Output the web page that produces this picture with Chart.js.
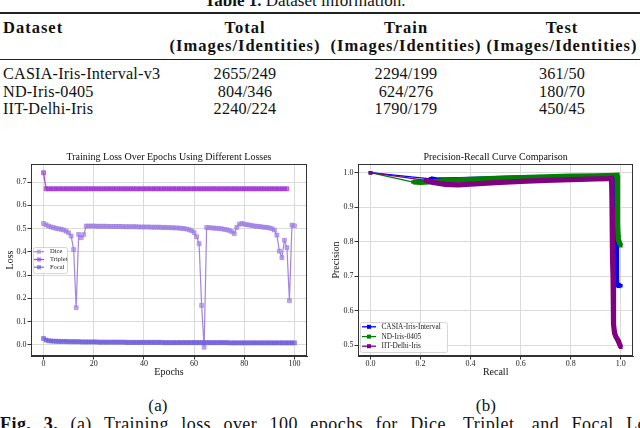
<!DOCTYPE html>
<html><head><meta charset="utf-8">
<script src="https://cdn.jsdelivr.net/npm/chart.js@4.4.1/dist/chart.umd.min.js"></script>
<style>
html,body{margin:0;padding:0;background:#fff;}
body{width:640px;height:428px;overflow:hidden;position:relative;font-family:'Liberation Serif',serif;color:#111;}
.t{position:absolute;white-space:nowrap;line-height:1;}
.hb{font-weight:bold;font-size:16.5px;letter-spacing:1px;}
.rg{font-size:16.2px;letter-spacing:0.2px;}
.rule{position:absolute;left:0;width:640px;background:#222;}
canvas{position:absolute;}
</style></head><body>
<div class="t" style="left:0;width:610px;text-align:center;top:-8px;font-size:17px;"><b>Table 1.</b> Dataset information.</div>
<div class="rule" style="top:12px;height:2px"></div>
<div class="rule" style="top:59px;height:1px"></div>
<div id="tbl"></div>
<canvas id="lossChart" width="320" height="240" style="left:0;top:145px"></canvas>
<canvas id="prChart" width="320" height="240" style="left:320px;top:145px"></canvas>
<div class="t rg" style="left:158px;top:397px;transform:translateX(-50%);font-size:17px">(a)</div>
<div class="t rg" style="left:486px;top:397px;transform:translateX(-50%);font-size:17px">(b)</div>
<div class="t" style="left:0;top:415px;width:662px;white-space:normal;text-align:justify;text-align-last:justify;font-size:18px;letter-spacing:0.45px;"><b>Fig. 3.</b> (a) Training loss over 100 epochs for Dice, Triplet, and Focal Loss</div>
<script>
// ---------- table data ----------
const tableHeaders = ['Dataset', 'Total', 'Train', 'Test'];
const tableSubHeader = '(Images/Identities)';
const datasetNames = ['CASIA-Iris-Interval-v3', 'ND-Iris-0405', 'IIT-Delhi-Iris'];
const totalCounts = ['2655/249', '804/346', '2240/224'];
const trainCounts = ['2294/199', '624/276', '1790/179'];
const testCounts = ['361/50', '180/70', '450/45'];

// ---------- chart (a) data ----------
const lossSeriesNames = ['Dice', 'Triplet', 'Focal'];
const diceLoss = [0.522,0.516,0.511,0.507,0.504,0.501,0.499,0.497,0.494,0.489,0.482,0.468,0.410,0.160,0.475,0.461,0.474,0.511,
  0.511,0.511,0.511,0.510,0.510,0.510,0.510,0.510,0.509,0.509,0.509,0.509,0.509,
  0.509,0.508,0.508,0.508,0.508,0.508,0.508,0.507,0.507,0.507,0.507,0.507,0.506,0.506,0.506,
  0.506,0.505,0.505,0.505,0.504,0.504,0.503,0.503,0.502,0.501,
  0.500,0.498,0.495,0.491,0.483,0.465,0.435,0.170,-0.010,
  0.505,0.504,0.503,0.502,0.501,0.500,0.499,0.497,0.495,0.492,0.487,0.478,
  0.505,0.519,0.522,
  0.519,0.517,0.515,0.513,0.511,0.510,0.509,0.507,0.506,0.505,0.503,0.500,0.494,0.472,
  0.403,0.375,0.450,0.418,0.190,0.515,0.512];
const tripletLoss = [0.740,0.671,0.671,0.671,0.671,0.671,0.671,0.671,0.671,0.671,
  0.671,0.671,0.671,0.671,0.671,0.671,0.671,0.671,0.671,0.671,
  0.671,0.671,0.671,0.671,0.671,0.671,0.671,0.671,0.671,0.671,
  0.671,0.671,0.671,0.671,0.671,0.671,0.671,0.671,0.671,0.671,
  0.671,0.671,0.671,0.671,0.671,0.671,0.671,0.671,0.671,0.671,
  0.671,0.671,0.671,0.671,0.671,0.671,0.671,0.671,0.671,0.671,
  0.671,0.671,0.671,0.671,0.671,0.671,0.671,0.671,0.671,0.671,
  0.671,0.671,0.671,0.671,0.671,0.671,0.671,0.671,0.671,0.671,
  0.671,0.671,0.671,0.671,0.671,0.671,0.671,0.671,0.671,0.671,
  0.671,0.671,0.671,0.671,0.671,0.671,0.671,0.671];
const focalLoss = [0.028,0.021,0.018,0.017,0.016,0.016,0.015,0.015,0.015,0.015,
  0.014,0.014,0.014,0.014,0.014,0.013,0.013,0.013,0.013,0.013,
  0.013,0.013,0.012,0.012,0.012,0.012,0.012,0.012,0.012,0.012,
  0.012,0.012,0.012,0.011,0.011,0.011,0.011,0.011,0.011,0.011,
  0.011,0.011,0.011,0.011,0.011,0.011,0.011,0.011,0.010,0.010,
  0.010,0.010,0.010,0.010,0.010,0.010,0.010,0.010,0.010,0.010,
  0.010,0.010,0.010,0.010,0.010,0.010,0.010,0.010,0.010,0.010,
  0.010,0.010,0.010,0.010,0.009,0.009,0.009,0.009,0.009,0.009,
  0.009,0.009,0.009,0.009,0.009,0.009,0.009,0.009,0.009,0.009,
  0.009,0.009,0.009,0.009,0.009,0.009,0.009,0.009,0.009,0.009,0.009];
const epochTicks = [0, 20, 40, 60, 80, 100];
const lossTicks = [0.0, 0.1, 0.2, 0.3, 0.4, 0.5, 0.6, 0.7];

// ---------- chart (b) data ----------
const prSeriesNames = ['CASIA-Iris-Interval', 'ND-Iris-0405', 'IIT-Delhi-Iris'];
const casiaRecall = [0.000,0.240,0.270,0.300,0.350,0.400,0.500,0.600,0.700,0.800,0.900,0.950,0.975,0.978,0.979,0.980,0.981,0.982,0.983,0.984,0.985,0.990,1.000];
const casiaPrecision = [1.000,0.982,0.979,0.979,0.980,0.981,0.983,0.985,0.986,0.987,0.988,0.989,0.990,0.950,0.900,0.850,0.800,0.760,0.720,0.690,0.676,0.673,0.672];
const ndRecall = [0.000,0.170,0.200,0.250,0.300,0.350,0.400,0.500,0.600,0.700,0.800,0.900,0.950,0.985,0.986,0.987,0.988,0.989,0.990,0.995,1.000];
const ndPrecision = [1.000,0.973,0.972,0.974,0.977,0.979,0.981,0.984,0.986,0.988,0.990,0.991,0.992,0.993,0.950,0.900,0.850,0.820,0.806,0.797,0.788];
const iitRecall = [0.000,0.220,0.250,0.280,0.300,0.350,0.400,0.500,0.600,0.700,0.800,0.900,0.950,0.963,0.964,0.965,0.966,0.967,0.968,0.969,0.970,0.971,0.972,0.975,0.980,0.990,1.000];
const iitPrecision = [1.000,0.978,0.972,0.968,0.966,0.965,0.967,0.971,0.975,0.978,0.980,0.982,0.983,0.984,0.950,0.900,0.850,0.800,0.750,0.700,0.650,0.600,0.560,0.535,0.525,0.512,0.494];
const recallTicks = [0.0, 0.2, 0.4, 0.6, 0.8, 1.0];
const precisionTicks = [0.5, 0.6, 0.7, 0.8, 0.9, 1.0];

// ---------- build table ----------
(function(){
  const tbl = document.getElementById('tbl');
  const colCenters = [245, 406, 562];
  const rowCenters = [74, 92, 109];
  function add(txt, cls, left, top, center){
    const d = document.createElement('div');
    d.className = 't ' + cls; d.textContent = txt;
    d.style.left = left + 'px'; d.style.top = top + 'px';
    if (center) d.style.transform = 'translateX(-50%)';
    tbl.appendChild(d);
  }
  add(tableHeaders[0], 'hb', 3, 20, false);
  for (let c = 0; c < 3; c++) {
    add(tableHeaders[c+1], 'hb', colCenters[c], 20, true);
    add(tableSubHeader, 'hb', colCenters[c], 38, true);
  }
  const cols = [totalCounts, trainCounts, testCounts];
  for (let r = 0; r < datasetNames.length; r++) {
    add(datasetNames[r], 'rg', 3, rowCenters[r]-8, false);
    for (let c = 0; c < 3; c++) add(cols[c][r], 'rg', colCenters[c], rowCenters[r]-8, true);
  }
})();

// ---------- charts ----------
Chart.defaults.font.family = "'Liberation Serif', serif";
Chart.defaults.color = '#222';

const framePlugin = {
  id: 'frame',
  afterDatasetsDraw(chart){
    const {ctx, chartArea: a} = chart;
    ctx.save();
    ctx.strokeStyle = '#333'; ctx.lineWidth = 1;
    ctx.strokeRect(Math.round(a.left)+0.5, Math.round(a.top)+0.5, Math.round(a.right)-Math.round(a.left)-1, Math.round(a.bottom)-Math.round(a.top)-1);
    ctx.restore();
  }
};
const innerLegend = {
  id: 'innerLegend',
  afterDraw(chart, args, o){
    const ctx = chart.ctx;
    ctx.save();
    ctx.fillStyle = 'rgba(255,255,255,0.85)';
    ctx.strokeStyle = '#cccccc'; ctx.lineWidth = 0.8;
    ctx.beginPath();
    ctx.roundRect(o.box[0]+0.5, o.box[1]+0.5, o.box[2]-o.box[0], o.box[3]-o.box[1], 2);
    ctx.fill(); ctx.stroke();
    ctx.font = o.fontSize + "px 'Liberation Serif', serif";
    ctx.textBaseline = 'middle'; ctx.textAlign = 'left';
    chart.data.datasets.forEach((ds, i) => {
      const y = o.rows[i];
      ctx.strokeStyle = ds.borderColor; ctx.lineWidth = o.lineWidth;
      ctx.beginPath(); ctx.moveTo(o.lx[0], y); ctx.lineTo(o.lx[1], y); ctx.stroke();
      const cx = (o.lx[0]+o.lx[1])/2, r = o.markerR;
      ctx.fillStyle = ds.pointBackgroundColor;
      ctx.fillRect(cx-r, y-r, 2*r, 2*r);
      ctx.fillStyle = '#222';
      ctx.fillText(ds.label, o.tx, y);
    });
    ctx.restore();
  }
};

function axis(min, max, ticks, fmt, title, fit, titlePad){
  return {
    type: 'linear', min: min, max: max,
    afterBuildTicks: s => { s.ticks = ticks.map(v => ({value: v})); },
    afterFit: fit,
    ticks: { autoSkip: false, maxRotation: 0, padding: titlePad.tp, font: {size: 8}, color: '#222', callback: v => fmt(v) },
    grid: { color: '#dadada', lineWidth: 1, tickColor: '#333', tickLength: 3.5, drawTicks: true },
    border: { display: true, color: '#333', width: 1 },
    title: { display: true, text: title, font: {size: 10}, color: '#111', padding: titlePad.p }
  };
}

const lossColors = [
  {line: 'rgba(147,112,219,0.85)', fill: 'rgba(165,135,232,0.7)'},
  {line: 'rgba(148,20,211,0.8)', fill: 'rgba(165,70,222,0.7)'},
  {line: 'rgba(106,90,215,0.9)', fill: 'rgba(118,103,222,0.75)'}
];
const lossData = [diceLoss, tripletLoss, focalLoss];
new Chart(document.getElementById('lossChart'), {
  type: 'line',
  data: {
    datasets: lossData.map((arr, k) => ({
      label: lossSeriesNames[k],
      data: arr.map((v, i) => ({x: i, y: v})),
      borderColor: lossColors[k].line, borderWidth: 1.2,
      pointStyle: 'rect', pointRadius: 2.8, pointBorderWidth: 0.6,
      pointBackgroundColor: lossColors[k].fill, pointBorderColor: lossColors[k].line,
      order: 3 - k, tension: 0
    }))
  },
  options: {
    responsive: false, animation: false, devicePixelRatio: 1,
    layout: { padding: {left: 0, right: 13, top: 0, bottom: 0} },
    plugins: {
      legend: {display: false}, tooltip: {enabled: false},
      title: { display: true, fullSize: false, text: 'Training Loss Over Epochs Using Different Losses', font: {size: 10, weight: 'normal'}, color: '#111', padding: {top: 6, bottom: 1} },
      innerLegend: { box: [33, 102, 67, 128], rows: [106.7, 114.5, 122.2], lx: [34, 44], tx: 50, fontSize: 6.5, lineWidth: 1.2, markerR: 2 }
    },
    scales: {
      x: axis(-5, 105, epochTicks, v => String(v), 'Epochs', s => { s.height = 29; }, {tp: 0, p: {top: 0, bottom: 7}}),
      y: axis(-0.0475, 0.7775, lossTicks, v => v.toFixed(1), 'Loss', s => { s.width = 31; }, {tp: 1, p: {top: 4, bottom: 0}})
    }
  },
  plugins: [framePlugin, innerLegend]
});

const prColors = ['#0000ff', '#008000', '#800080'];
const prData = [[casiaRecall, casiaPrecision], [ndRecall, ndPrecision], [iitRecall, iitPrecision]];
new Chart(document.getElementById('prChart'), {
  type: 'line',
  data: {
    datasets: prData.map((d, k) => ({
      label: prSeriesNames[k],
      data: d[0].map((r, i) => ({x: r, y: d[1][i]})),
      borderColor: prColors[k], borderWidth: 5.2,
      segment: { borderWidth: c => c.p0DataIndex === 0 ? 1.3 : 5.2 },
      pointStyle: 'rect', pointRadius: 2.6, pointBorderWidth: 0,
      pointBackgroundColor: prColors[k], pointBorderColor: prColors[k],
      order: 3 - k, tension: 0
    }))
  },
  options: {
    responsive: false, animation: false, devicePixelRatio: 1,
    layout: { padding: {left: 0, right: 6.7, top: 0, bottom: 0} },
    plugins: {
      legend: {display: false}, tooltip: {enabled: false},
      title: { display: true, fullSize: false, text: 'Precision-Recall Curve Comparison', font: {size: 10, weight: 'normal'}, color: '#111', padding: {top: 6, bottom: 1} },
      innerLegend: { box: [40, 177, 127, 207], rows: [181.8, 191.6, 201.2], lx: [42, 56], tx: 61.5, fontSize: 7.3, lineWidth: 1.3, markerR: 2 }
    },
    scales: {
      x: axis(-0.05, 1.05, recallTicks, v => v.toFixed(1), 'Recall', s => { s.height = 29; }, {tp: 0, p: {top: 0, bottom: 7}}),
      y: axis(0.4682, 1.0253, precisionTicks, v => v.toFixed(1), 'Precision', s => { s.width = 38; }, {tp: 1, p: {top: 10.5, bottom: 0}})
    }
  },
  plugins: [framePlugin, innerLegend]
});
</script>
</body></html>
